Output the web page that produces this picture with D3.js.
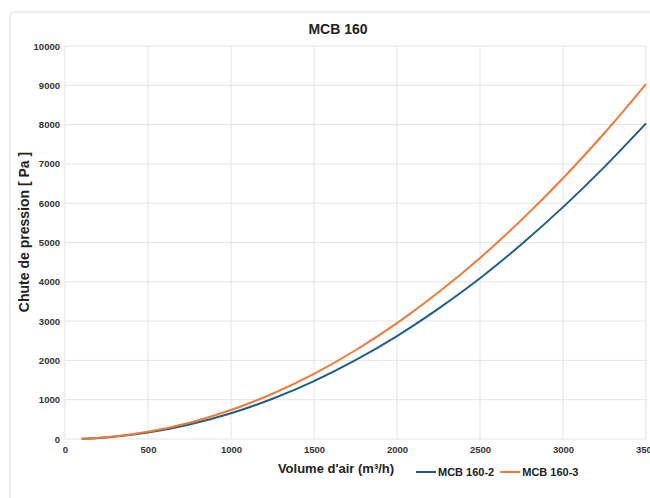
<!DOCTYPE html>
<html>
<head>
<meta charset="utf-8">
<style>
body { margin: 0; background: #fff; }
svg { display: block; font-family: "Liberation Sans", Arial, sans-serif; }
.grid line { stroke: #e3e3e3; stroke-width: 1; }
.tick text { fill: #333; font-size: 9.5px; font-weight: bold; }
</style>
<script src="https://d3js.org/d3.v7.min.js"></script>
</head>
<body>
<svg id="chart" width="650" height="498"></svg>
<script>
// Débit (m3/h) et perte de charge (Pa)
const airflow = [100, 250, 500, 750, 1000, 1250, 1500, 1750, 2000, 2250, 2500, 2750, 3000, 3250, 3500];
const mcb160_2 = [7, 41, 164, 369, 655, 1025, 1475, 2007, 2620, 3318, 4090, 4955, 5900, 6925, 8030];
const mcb160_3 = [7, 46, 184, 415, 737, 1152, 1659, 2258, 2949, 3733, 4607, 5575, 6634, 7786, 9030];
const xTicks = [0, 500, 1000, 1500, 2000, 2500, 3000, 3500];
const yTicks = [0, 1000, 2000, 3000, 4000, 5000, 6000, 7000, 8000, 9000, 10000];

const series = [
  {name: "MCB 160-2", values: mcb160_2, color: "#1f5f82"},
  {name: "MCB 160-3", values: mcb160_3, color: "#ef7a35"}
];

const svg = d3.select("#chart");
const margin = {left: 65, top: 46, right: 4, bottom: 59};
const width = 650 - margin.left - margin.right;
const height = 498 - margin.top - margin.bottom;

// cadre
svg.append("rect")
  .attr("x", 10).attr("y", 12)
  .attr("width", 660).attr("height", 500)
  .attr("rx", 4)
  .attr("fill", "none").attr("stroke", "#dedede");

const x = d3.scaleLinear().domain([0, 3500]).range([0, 581]);
const y = d3.scaleLinear().domain([0, 10000]).range([height, 0]);

const g = svg.append("g").attr("transform", "translate(" + margin.left + "," + margin.top + ")");

g.append("g").attr("class", "grid")
  .selectAll("line").data(yTicks).enter().append("line")
  .attr("x1", 0).attr("x2", 581)
  .attr("y1", d => y(d)).attr("y2", d => y(d));

g.append("g").attr("class", "grid")
  .selectAll("line").data(xTicks).enter().append("line")
  .attr("x1", d => x(d)).attr("x2", d => x(d))
  .attr("y1", 0).attr("y2", height);

g.append("g")
  .attr("transform", "translate(0," + height + ")")
  .call(d3.axisBottom(x).tickValues(xTicks).tickFormat(d3.format("d")).tickSize(0).tickPadding(7))
  .call(a => a.select(".domain").remove());

g.append("g")
  .call(d3.axisLeft(y).tickValues(yTicks).tickFormat(d3.format("d")).tickSize(0).tickPadding(5))
  .call(a => a.select(".domain").remove());

const line = d3.line()
  .x((d, i) => x(airflow[i]))
  .y(d => y(d))
  .curve(d3.curveMonotoneX);

g.selectAll(".serie").data(series).enter().append("path")
  .attr("class", "serie")
  .attr("d", d => line(d.values))
  .attr("fill", "none")
  .attr("stroke", d => d.color)
  .attr("stroke-width", 2);

// titres
svg.append("text")
  .attr("x", 338).attr("y", 34)
  .attr("text-anchor", "middle")
  .attr("font-size", 14).attr("font-weight", "bold").attr("fill", "#222")
  .text("MCB 160");

svg.append("text")
  .attr("transform", "translate(29,232) rotate(-90)")
  .attr("text-anchor", "middle")
  .attr("font-size", 14).attr("font-weight", "bold").attr("fill", "#222")
  .text("Chute de pression [ Pa ]");

svg.append("text")
  .attr("x", 336).attr("y", 473)
  .attr("text-anchor", "middle")
  .attr("font-size", 13).attr("font-weight", "bold").attr("fill", "#222")
  .text("Volume d'air (m³/h)");

// légende
const legend = svg.append("g").attr("transform", "translate(416,472)");
let lx = 0;
series.forEach(s => {
  const item = legend.append("g").attr("transform", "translate(" + lx + ",0)");
  item.append("line").attr("x1", 0).attr("x2", 20)
    .attr("stroke", s.color).attr("stroke-width", 2);
  const t = item.append("text").attr("x", 22).attr("y", 4)
    .attr("font-size", 11).attr("font-weight", "bold").attr("fill", "#222")
    .text(s.name);
  lx += 22 + t.node().getComputedTextLength() + 6;
});
</script>
</body>
</html>
